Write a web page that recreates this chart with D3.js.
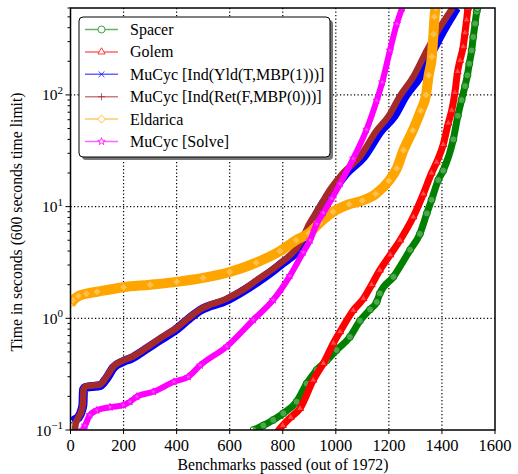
<!DOCTYPE html>
<html>
<head>
<meta charset="utf-8">
<script src="https://cdn.jsdelivr.net/npm/d3@7"></script>
<style>
  body { margin: 0; background: #fff; }
  svg text { font-family: "Liberation Serif", "Times New Roman", Times, serif; }
</style>
</head>
<body>
<svg id="chart" width="518" height="474" font-family="Liberation Serif, Times New Roman, serif"></svg>
<script>
// cactus plot: benchmarks solved vs time, one curve per tool

var spacerX = [690, 727, 764, 802, 852, 890, 928, 966, 1003, 1053, 1091, 1129, 1154, 1166, 1217, 1280, 1317, 1343, 1361, 1386, 1405, 1443, 1460, 1474, 1487, 1496, 1503, 1512, 1518, 1525, 1531, 1534];
var spacerY = [0.1, 0.11, 0.123, 0.141, 0.179, 0.26, 0.345, 0.42, 0.52, 0.68, 0.95, 1.2, 1.4, 1.67, 2.35, 4.1, 5.7, 8.7, 11.5, 17.3, 21, 40, 65, 90, 120, 150, 190, 250, 330, 435, 556, 600];

var golemX = [770, 800, 830, 865, 915, 953, 991, 1016, 1066, 1104, 1135, 1166, 1205, 1242, 1292, 1330, 1361, 1380, 1405, 1424, 1437, 1449, 1459, 1468, 1480, 1487, 1493, 1498];
var golemY = [0.09, 0.11, 0.13, 0.156, 0.28, 0.395, 0.6, 0.76, 1.18, 1.5, 2.0, 2.7, 3.7, 5.0, 8.1, 13, 20, 25, 36, 56, 73, 105, 162, 204, 270, 360, 470, 600];

var yldX = [10, 20, 30, 42, 47, 49, 55, 80, 111, 136, 161, 199, 231, 274, 337, 400, 444, 489, 589, 650, 702, 790, 870, 910, 950, 975, 1040, 1105, 1170, 1220, 1262, 1315, 1365, 1400, 1435, 1455];
var yldY = [0.12, 0.125, 0.13, 0.15, 0.17, 0.23, 0.24, 0.245, 0.25, 0.29, 0.36, 0.41, 0.44, 0.51, 0.64, 0.8, 0.98, 1.18, 1.45, 1.75, 2.1, 3.0, 4.5, 7.0, 10.5, 12.5, 20, 28, 48, 65, 98, 145, 250, 360, 500, 600];

var retX = [15, 20, 30, 42, 47, 49, 55, 80, 111, 136, 161, 199, 231, 274, 337, 400, 444, 489, 589, 650, 702, 790, 865, 900, 940, 966, 1028, 1091, 1154, 1200, 1242, 1292, 1343, 1380, 1418, 1440];
var retY = [0.09, 0.115, 0.13, 0.15, 0.17, 0.23, 0.244, 0.25, 0.255, 0.30, 0.37, 0.42, 0.45, 0.52, 0.66, 0.82, 1.0, 1.2, 1.5, 1.8, 2.2, 3.1, 4.7, 7.0, 10, 12.8, 20, 28, 48, 65, 98, 145, 250, 360, 500, 600];

var eldX = [0, 10, 30, 60, 100, 200, 300, 400, 500, 600, 700, 790, 850, 900, 940, 990, 1050, 1100, 1150, 1200, 1230, 1255, 1290, 1320, 1340, 1350, 1362, 1368, 1372, 1376];
var eldY = [1.35, 1.45, 1.58, 1.66, 1.73, 1.9, 2.0, 2.12, 2.3, 2.6, 3.15, 4.0, 5.0, 5.8, 7.2, 9.0, 10.5, 11.3, 13, 17, 22, 32, 48, 72, 100, 150, 220, 350, 500, 600];

var solveX = [25, 45, 55, 73, 99, 149, 199, 224, 250, 312, 390, 444, 489, 589, 689, 764, 827, 877, 903, 928, 953, 985, 1016, 1066, 1116, 1154, 1175, 1204, 1230, 1250];
var solveY = [0.09, 0.1, 0.11, 0.136, 0.15, 0.16, 0.167, 0.179, 0.199, 0.22, 0.27, 0.30, 0.38, 0.56, 0.97, 1.46, 2.4, 3.9, 5.0, 7.0, 8.8, 11.8, 16, 27, 49, 89, 130, 250, 434, 600];

var seriesNames = ['Spacer', 'Golem', 'MuCyc [Ind(Yld(T,MBP(1)))]', 'MuCyc [Ind(Ret(F,MBP(0)))]', 'Eldarica', 'MuCyc [Solve]'];
var seriesColors = ['#008000', '#ff0000', '#0000ff', '#a52a2a', '#ffa500', '#ff00ff'];
var seriesMarkers = ['circle', 'triangle', 'x', 'plus', 'diamond', 'star'];
var bandWidths = [7, 7, 9, 6.5, 10, 6];

var xTicks = [0, 200, 400, 600, 800, 1000, 1200, 1400, 1600];
var yTicks = [0.1, 1, 10, 100];
var yExponents = ['\u22121', '0', '1', '2'];

var allX = [spacerX, golemX, yldX, retX, eldX, solveX];
var allY = [spacerY, golemY, yldY, retY, eldY, solveY];
var series = seriesNames.map(function(name, i) {
    return {
        name: name, color: seriesColors[i], marker: seriesMarkers[i], band: bandWidths[i],
        points: allX[i].map(function(x, j) { return [x, allY[i][j]]; })
    };
});

var pLeft = 70.5, pRight = 495, pTop = 8, pBottom = 430;
var svg = d3.select('#chart');

var x = d3.scaleLinear().domain([0, 1600]).range([pLeft, pRight]);
var y = d3.scaleLog().domain([0.1, 600]).range([pBottom, pTop]);

svg.append('defs').append('clipPath').attr('id', 'plotclip')
    .append('rect').attr('x', pLeft).attr('y', pTop).attr('width', pRight - pLeft).attr('height', pBottom - pTop);

// grid
var grid = svg.append('g');
grid.selectAll('line.vx')
    .data(xTicks.slice(1, -1))
    .enter().append('line')
    .attr('x1', function(d) { return x(d); }).attr('x2', function(d) { return x(d); })
    .attr('y1', pTop).attr('y2', pBottom)
    .attr('stroke', '#000').attr('stroke-dasharray', '1.2,2.3').attr('stroke-width', 1.2);
grid.selectAll('line.hy')
    .data(yTicks.slice(1))
    .enter().append('line')
    .attr('y1', function(d) { return y(d); }).attr('y2', function(d) { return y(d); })
    .attr('x1', pLeft).attr('x2', pRight)
    .attr('stroke', '#000').attr('stroke-dasharray', '1.2,2.3').attr('stroke-width', 1.2);

function markerPath(type, size) {
    if (type === 'circle') return d3.symbol(d3.symbolCircle, size * size * 0.785)();
    if (type === 'triangle') return d3.symbol(d3.symbolTriangle, size * size * 0.45)();
    if (type === 'x') return d3.symbol(d3.symbolTimes, size * size * 0.5)();
    if (type === 'star') return d3.symbol(d3.symbolStar, size * size * 0.35)();
    if (type === 'diamond') return d3.symbol(d3.symbolDiamond2, size * size * 0.5)();
    var h = size / 2;
    return 'M' + (-h) + ',0H' + h + 'M0,' + (-h) + 'V' + h;
}

var line = d3.line()
    .x(function(d) { return x(d[0]); })
    .y(function(d) { return y(d[1]); })
    .curve(d3.curveMonotoneX);

var plot = svg.append('g').attr('clip-path', 'url(#plotclip)');
series.forEach(function(s) {
    var g = plot.append('g');
    g.append('path')
        .attr('d', line(s.points))
        .attr('fill', 'none')
        .attr('stroke', s.color)
        .attr('stroke-width', s.band)
        .attr('stroke-linejoin', 'round');
    g.selectAll('path.m')
        .data(s.points)
        .enter().append('path')
        .attr('class', 'm')
        .attr('transform', function(d) { return 'translate(' + x(d[0]) + ',' + y(d[1]) + ')'; })
        .attr('d', markerPath(s.marker, s.marker === 'diamond' ? 9 : 7))
        .attr('fill', (s.marker === 'x' || s.marker === 'plus') ? 'none' : '#fff')
        .attr('fill-opacity', 0.3)
        .attr('stroke', s.color)
        .attr('stroke-width', 1);
});

// frame
svg.append('rect')
    .attr('x', pLeft).attr('y', pTop).attr('width', pRight - pLeft).attr('height', pBottom - pTop)
    .attr('fill', 'none').attr('stroke', '#000').attr('stroke-width', 1.5);

// x axis
var xAxis = svg.append('g');
xAxis.selectAll('line')
    .data(xTicks)
    .enter().append('line')
    .attr('x1', function(d) { return x(d); }).attr('x2', function(d) { return x(d); })
    .attr('y1', pBottom).attr('y2', pBottom + 4)
    .attr('stroke', '#000');
xAxis.selectAll('text')
    .data(xTicks)
    .enter().append('text')
    .attr('x', function(d) { return x(d); })
    .attr('y', 451)
    .attr('text-anchor', 'middle')
    .attr('font-size', 16.5)
    .text(function(d) { return d; });

// y axis, log ticks
var minor = [];
[0.1, 1, 10, 100].forEach(function(dec) {
    for (var k = 2; k <= 9; k++) {
        if (dec * k <= 600) minor.push(dec * k);
    }
});
var yAxis = svg.append('g');
yAxis.selectAll('line.minor')
    .data(minor)
    .enter().append('line')
    .attr('y1', function(d) { return y(d); }).attr('y2', function(d) { return y(d); })
    .attr('x1', pLeft - 3).attr('x2', pLeft)
    .attr('stroke', '#000');
yAxis.selectAll('line.major')
    .data(yTicks)
    .enter().append('line')
    .attr('y1', function(d) { return y(d); }).attr('y2', function(d) { return y(d); })
    .attr('x1', pLeft - 5).attr('x2', pLeft)
    .attr('stroke', '#000');
var yl = yAxis.selectAll('text')
    .data(yTicks)
    .enter().append('text')
    .attr('x', 63)
    .attr('y', function(d) { return y(d) + 5.5; })
    .attr('text-anchor', 'end')
    .attr('font-size', 15.5);
yl.append('tspan').text('10');
yl.append('tspan')
    .attr('font-size', 11)
    .attr('dy', -6.5)
    .text(function(d, i) { return yExponents[i]; });

svg.append('text')
    .attr('x', 283).attr('y', 470)
    .attr('text-anchor', 'middle')
    .attr('font-size', 15.7)
    .text('Benchmarks passed (out of 1972)');
svg.append('text')
    .attr('transform', 'translate(22,222) rotate(-90)')
    .attr('text-anchor', 'middle')
    .attr('font-size', 15.7)
    .text('Time in seconds (600 seconds time limit)');

// legend
var legend = svg.append('g');
legend.append('rect')
    .attr('x', 82).attr('y', 20).attr('width', 251).attr('height', 140)
    .attr('rx', 4).attr('fill', '#777');
legend.append('rect')
    .attr('x', 79).attr('y', 17).attr('width', 251).attr('height', 140)
    .attr('rx', 4).attr('fill', '#fff').attr('stroke', '#000').attr('stroke-width', 1);
var items = legend.selectAll('g.item')
    .data(series)
    .enter().append('g')
    .attr('transform', function(d, i) { return 'translate(0,' + (29.5 + i * 22.4) + ')'; });
items.append('line')
    .attr('x1', 85).attr('x2', 118)
    .attr('stroke', function(d) { return d.color; })
    .attr('stroke-opacity', 0.6)
    .attr('stroke-width', 1.5);
items.append('path')
    .attr('transform', 'translate(101.5,0)')
    .attr('d', function(d) { return markerPath(d.marker, d.marker === 'diamond' ? 9 : 7); })
    .attr('fill', function(d) { return (d.marker === 'x' || d.marker === 'plus') ? 'none' : '#fff'; })
    .attr('stroke', function(d) { return d.color; })
    .attr('stroke-opacity', 0.75)
    .attr('stroke-width', 1);
items.append('text')
    .attr('x', 130).attr('y', 5.5)
    .attr('font-size', 16)
    .text(function(d) { return d.name; });
</script>
</body>
</html>
